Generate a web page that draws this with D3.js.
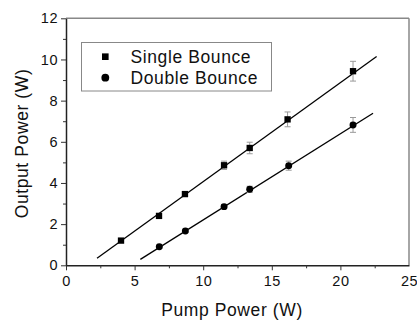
<!DOCTYPE html>
<html><head><meta charset="utf-8">
<script src="https://cdn.jsdelivr.net/npm/d3@7"></script>
<style>body{margin:0;background:#fff}svg{display:block}</style>
</head><body>
<svg id="c" width="417" height="320"></svg>
<script>
const singleX = [4.01, 6.78, 8.67, 11.52, 13.39, 16.15, 20.92];
const singleY = [1.20, 2.40, 3.46, 4.86, 5.70, 7.09, 9.43];
const singleErr = [0.05, 0.08, 0.10, 0.20, 0.28, 0.36, 0.48];
const doubleX = [6.80, 8.70, 11.52, 13.39, 16.23, 20.92];
const doubleY = [0.90, 1.67, 2.85, 3.69, 4.84, 6.82];
const doubleErr = [0.05, 0.06, 0.10, 0.15, 0.22, 0.36];
const singleFit = [[2.26, 0.34], [22.64, 10.14]];
const doubleFit = [[5.42, 0.29], [22.38, 7.39]];
const xTicks = [0, 5, 10, 15, 20, 25];
const yTicks = [0, 2, 4, 6, 8, 10, 12];
const xMinor = [2.5, 7.5, 12.5, 17.5, 22.5];
const yMinor = [1, 3, 5, 7, 9, 11];
const legendLabels = ["Single Bounce", "Double Bounce"];
const xTitle = "Pump Power (W)";
const yTitle = "Output Power (W)";

const svg = d3.select("#c");
const L = 66, R = 409, T = 18.3, B = 265.3;
const x = d3.scaleLinear().domain([0, 25]).range([L, R]);
const y = d3.scaleLinear().domain([0, 12]).range([B, T]);
const font = "Arial, 'Liberation Sans', sans-serif";

// frame top/right
svg.append("line").attr("x1", L).attr("x2", R).attr("y1", T).attr("y2", T).attr("stroke", "#888").attr("stroke-width", 1.5);
svg.append("line").attr("x1", R).attr("x2", R).attr("y1", T).attr("y2", B).attr("stroke", "#888").attr("stroke-width", 1.5);

// axes
const xAxis = svg.append("g").attr("transform", `translate(0,${B})`)
  .call(d3.axisBottom(x).tickValues(xTicks).tickFormat(d3.format("d")).tickSize(5).tickSizeOuter(0));
xAxis.selectAll(".tick line").filter(d => d === 25).remove();
svg.append("g").attr("transform", `translate(0,${B})`)
  .call(d3.axisBottom(x).tickValues(xMinor).tickFormat("").tickSize(3).tickSizeOuter(0))
  .select(".domain").remove();
const yAxis = svg.append("g").attr("transform", `translate(${L},0)`)
  .call(d3.axisLeft(y).tickValues(yTicks).tickFormat(d3.format("d")).tickSize(5).tickSizeOuter(0));
svg.append("g").attr("transform", `translate(${L},0)`)
  .call(d3.axisLeft(y).tickValues(yMinor).tickFormat("").tickSize(3).tickSizeOuter(0))
  .select(".domain").remove();
svg.selectAll(".domain").attr("stroke", "#222").attr("stroke-width", 1.5);
svg.selectAll(".tick line").attr("stroke", "#333");
xAxis.selectAll("text").attr("font-family", font).attr("font-size", 14.5).attr("fill", "#111").attr("dy", "0.9em").attr("letter-spacing", 0.5);
yAxis.selectAll("text").attr("font-family", font).attr("font-size", 14.5).attr("fill", "#111").attr("x", -8).attr("letter-spacing", 0.5);

// titles
svg.append("text").attr("x", 232).attr("y", 316).attr("text-anchor", "middle").attr("letter-spacing", 0.6)
  .attr("font-family", font).attr("font-size", 17.5).attr("fill", "#111").text(xTitle);
svg.append("text").attr("transform", "translate(28,143.5) rotate(-90)").attr("text-anchor", "middle").attr("letter-spacing", 0.6)
  .attr("font-family", font).attr("font-size", 17.5).attr("fill", "#111").text(yTitle);

// fit lines
const line = d3.line().x(d => x(d[0])).y(d => y(d[1]));
[singleFit, doubleFit].forEach(f => svg.append("path").attr("d", line(f)).attr("stroke", "#000").attr("stroke-width", 1.3).attr("fill", "none"));

// error bars
function errBars(xs, ys, es) {
  const g = svg.append("g").attr("stroke", "#999").attr("stroke-width", 1);
  xs.forEach((xv, i) => {
    const cx = x(xv), y1 = y(ys[i] + es[i]), y2 = y(ys[i] - es[i]);
    g.append("line").attr("x1", cx).attr("x2", cx).attr("y1", y1).attr("y2", y2);
    g.append("line").attr("x1", cx - 3).attr("x2", cx + 3).attr("y1", y1).attr("y2", y1);
    g.append("line").attr("x1", cx - 3).attr("x2", cx + 3).attr("y1", y2).attr("y2", y2);
  });
}
errBars(singleX, singleY, singleErr);
errBars(doubleX, doubleY, doubleErr);

// markers
const sqSym = d3.symbol().type(d3.symbolSquare).size(40);
const ciSym = d3.symbol().type(d3.symbolCircle).size(38);
svg.append("g").selectAll("path").data(singleX).join("path")
  .attr("d", sqSym).attr("transform", (d, i) => `translate(${x(d)},${y(singleY[i])})`).attr("fill", "#000");
svg.append("g").selectAll("path").data(doubleX).join("path")
  .attr("d", ciSym).attr("transform", (d, i) => `translate(${x(d)},${y(doubleY[i])})`).attr("fill", "#000");

// legend
const lg = svg.append("g");
lg.append("rect").attr("x", 81.5).attr("y", 42.5).attr("width", 190).attr("height", 48.5)
  .attr("fill", "#fff").attr("stroke", "#888").attr("stroke-width", 1);
lg.append("path").attr("d", d3.symbol().type(d3.symbolSquare).size(44)()).attr("transform", "translate(105.3,56.7)");
lg.append("path").attr("d", d3.symbol().type(d3.symbolCircle).size(48)()).attr("transform", "translate(105.3,77.7)");
legendLabels.forEach((t, i) => lg.append("text").attr("x", 130.5).attr("y", 56.7 + i * 21).attr("dy", "0.35em").attr("letter-spacing", 0.6)
  .attr("font-family", font).attr("font-size", 17.5).attr("fill", "#111").text(t));
</script>
</body></html>
